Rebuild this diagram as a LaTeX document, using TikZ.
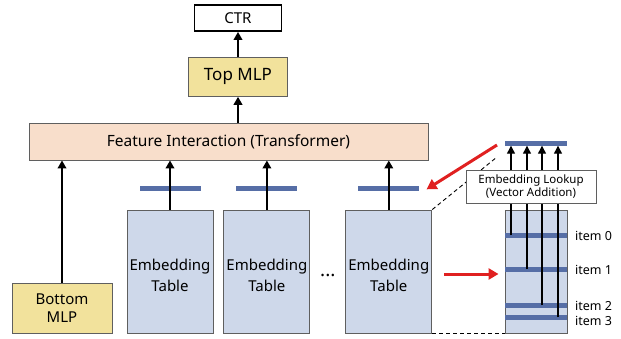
\documentclass[tikz,border=0pt]{standalone}
\usepackage{fontspec}
\setmainfont{Noto Sans}
\usetikzlibrary{arrows.meta, positioning, calc}
\definecolor{mlpyellow}{RGB}{242, 226, 156}
\definecolor{fipeach}{RGB}{248, 222, 203}
\definecolor{tableblue}{RGB}{206, 216, 234}
\definecolor{barblue}{RGB}{86, 110, 166}
\definecolor{darkred}{RGB}{224, 32, 32}
\definecolor{edgegray}{RGB}{95, 95, 95}
\tikzset{
    ctrbox/.style = {rectangle, draw=black, fill=white, line width=1.8pt, minimum width=87pt, minimum height=26pt, font=\fontsize{15pt}{17pt}\selectfont},
    mlpbox/.style = {rectangle, draw=edgegray, fill=mlpyellow, line width=0.9pt, align=center, font=\fontsize{15pt}{20pt}\selectfont},
    fibox/.style = {rectangle, draw=edgegray, fill=fipeach, line width=0.9pt, minimum width=399pt, minimum height=37pt, font=\fontsize{15.5pt}{18pt}\selectfont},
    tablebox/.style = {rectangle, draw=edgegray, fill=tableblue, line width=0.9pt, minimum width=86pt, minimum height=123pt, align=center, inner sep=0pt, font=\fontsize{15pt}{21pt}\selectfont},
    column/.style = {rectangle, draw=edgegray, fill=tableblue, line width=0.9pt, minimum width=62pt, minimum height=123pt},
    bar/.style = {rectangle, fill=barblue, inner sep=0pt, minimum height=5pt},
    lookup/.style = {rectangle, draw=edgegray, fill=white, line width=0.9pt, minimum width=130pt, minimum height=33pt, align=center, inner sep=1pt, font=\fontsize{11.5pt}{13pt}\selectfont},
    itemlabel/.style = {anchor=west, inner sep=0pt, font=\fontsize{12.5pt}{14pt}\selectfont},
    arrow/.style = {line width=2.6pt, -{Triangle[length=8pt, width=8.5pt]}},
    thinarrow/.style = {line width=1.2pt, -{Triangle[length=8pt, width=8pt]}},
    redarrow/.style = {draw=darkred, line width=3pt, -{Triangle[length=10pt, width=11pt]}},
    zoomline/.style = {line width=0.9pt, dashed, dash pattern=on 4pt off 3pt}
}

\begin{document}
\begin{tikzpicture}[x=1pt, y=-1pt]
\useasboundingbox (0,0) rectangle (621,338);

% Main stack
\node (ctr) [ctrbox] at (238,18) {CTR};
\node (top) [mlpbox, minimum width=99pt, minimum height=39pt, below=25pt of ctr, font=\fontsize{17pt}{20pt}\selectfont] {Top MLP};
\node (fi) [fibox] at (228.5,141.5) {Feature Interaction (Transformer)};
\node (bottom) [mlpbox, minimum width=100pt, minimum height=50pt] at (62,308) {Bottom\\[-2pt]MLP};

% Embedding tables
\node (tab1) [tablebox] at (170,271.5) {\\[-2pt]Embedding\\Table};
\node (tab2) [tablebox, right=10pt of tab1] {\\[-2pt]Embedding\\Table};
\node (tab3) [tablebox, right=35pt of tab2] {\\[-2pt]Embedding\\Table};
\node (dots) at ($(tab2.east)!0.5!(tab3.west)+(0,4)$) {\fontsize{19pt}{20pt}\selectfont\bfseries...};

\node (bar1) [bar, minimum width=61pt, above=18.5pt of tab1] {};
\node (bar2) [bar, minimum width=61pt, above=18.5pt of tab2] {};
\node (bar3) [bar, minimum width=61pt, above=18.5pt of tab3] {};

% Lookup column
\node (col) [column] at (536,271.5) {};
\node (topbar) [bar, minimum width=62pt] at (536,143) {};
\node (item0) [bar, minimum width=62pt] at (536,235) {};
\node (item1) [bar, minimum width=62pt] at (536,269) {};
\node (item2) [bar, minimum width=62pt] at (536,305) {};
\node (item3) [bar, minimum width=62pt] at (536,317) {};
\node (lab0) [itemlabel] at (575,236) {item 0};
\node (lab1) [itemlabel] at (575,270) {item 1};
\node (lab2) [itemlabel] at (575,306) {item 2};
\node (lab3) [itemlabel] at (575,321) {item 3};

\draw [thinarrow] ([xshift=-25pt]item0.center) -- ([xshift=-25pt]topbar.south);
\draw [thinarrow] ([xshift=-9pt]item1.center) -- ([xshift=-9pt]topbar.south);
\draw [thinarrow] ([xshift=6pt]item2.center) -- ([xshift=6pt]topbar.south);
\draw [thinarrow] ([xshift=22pt]item3.center) -- ([xshift=22pt]topbar.south);

% Zoom lines
\coordinate (zoomtop) at (497,157);
\draw [zoomline] (tab3.north east) -- (zoomtop);
\draw [zoomline] (tab3.south east) -- (tab3.south east -| col.west);

\node (look) [lookup] at (531,186.5) {Embedding Lookup\\(Vector Addition)};

% Arrows
\draw [arrow] (top) -- (ctr);
\draw [arrow] (fi.north -| top) -- (top);
\draw [arrow] (bottom) -- (bottom |- fi.south);
\draw [arrow] (tab1) -- (tab1 |- fi.south);
\draw [arrow] (tab2) -- (tab2 |- fi.south);
\draw [arrow] (tab3) -- (tab3 |- fi.south);

\coordinate (redstart) at (497,145);
\draw [redarrow] (redstart) -- ([xshift=7pt,yshift=-1pt]bar3.east);
\draw [redarrow] ([xshift=12pt,yshift=-2.5pt]tab3.east) -- ([xshift=-6pt,yshift=-2.5pt]col.west);

\end{tikzpicture}
\end{document}
